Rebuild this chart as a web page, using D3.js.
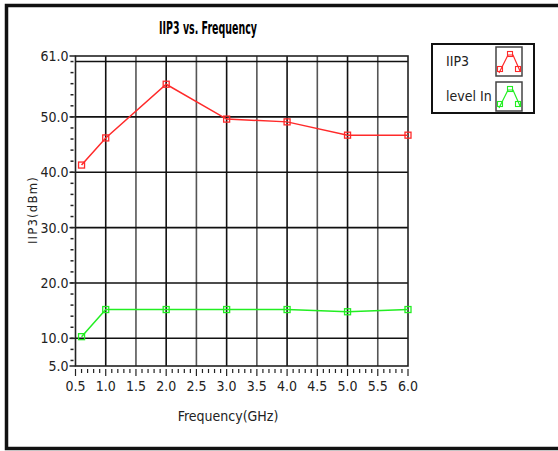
<!DOCTYPE html>
<html>
<head>
<meta charset="utf-8">
<script src="https://cdn.jsdelivr.net/npm/d3@7"></script>
<style>
  body { margin: 0; background: #fff; }
  text { font-family: "DejaVu Sans Condensed", "Liberation Sans", sans-serif; }
</style>
</head>
<body>
<div id="chart"></div>
<script>
// data
var frequency = [0.6, 1.0, 2.0, 3.0, 4.0, 5.0, 6.0];
var iip3 = [41.3, 46.2, 55.9, 49.6, 49.1, 46.7, 46.7];
var levelIn = [10.3, 15.2, 15.2, 15.2, 15.2, 14.8, 15.2];
var yTickLabels = [61, 50, 40, 30, 20, 10, 5];
var yGrid = [10, 20, 30, 40, 50, 60];
var xTickLabels = [0.5, 1.0, 1.5, 2.0, 2.5, 3.0, 3.5, 4.0, 4.5, 5.0, 5.5, 6.0];
var seriesNames = ["IIP3", "level In"];
var seriesColors = ["#ff2a2a", "#22ee22"];

var W = 558, H = 451;
var svg = d3.select("#chart").append("svg")
    .attr("width", W).attr("height", H);

// outer frame
svg.append("rect")
    .attr("x", 6.5).attr("y", 5.5)
    .attr("width", 600).attr("height", 443)
    .attr("fill", "#fff").attr("stroke", "#111").attr("stroke-width", 3.5);

var pLeft = 75.5, pRight = 408, pTop = 56, pBottom = 366;

var x = d3.scaleLinear().domain([0.5, 6.0]).range([pLeft, pRight]);
var y = d3.scaleLinear().domain([5, 61]).range([pBottom, pTop]);

// title
svg.append("text")
    .attr("x", 208).attr("y", 34)
    .attr("text-anchor", "middle")
    .attr("font-weight", "bold")
    .attr("font-size", 17)
    .attr("textLength", 98).attr("lengthAdjust", "spacingAndGlyphs")
    .text("IIP3 vs. Frequency");

// grid
var grid = svg.append("g");
grid.selectAll(".vg").data(xTickLabels.slice(1, -1)).enter().append("line")
    .attr("x1", d => x(d)).attr("x2", d => x(d))
    .attr("y1", pTop).attr("y2", pBottom)
    .attr("stroke", (d, i) => i % 2 == 0 ? "#111" : "#555")
    .attr("stroke-width", 1.6);
grid.selectAll(".hg").data(yGrid).enter().append("line")
    .attr("x1", pLeft).attr("x2", pRight)
    .attr("y1", d => y(d)).attr("y2", d => y(d))
    .attr("stroke", "#111").attr("stroke-width", 1.6);

// plot frame
svg.append("rect")
    .attr("x", pLeft).attr("y", pTop)
    .attr("width", pRight - pLeft).attr("height", pBottom - pTop)
    .attr("fill", "none").attr("stroke", "#222").attr("stroke-width", 1.6);

// y axis: minor ticks every 2, labels
var yMinor = d3.range(6, 61, 2);
svg.append("g").selectAll("line").data(yMinor).enter().append("line")
    .attr("x1", pLeft - 5).attr("x2", pLeft - 2)
    .attr("y1", d => y(d)).attr("y2", d => y(d))
    .attr("stroke", "#222").attr("stroke-width", 1.5);
svg.append("g").selectAll("line").data(yTickLabels).enter().append("line")
    .attr("x1", pLeft - 6).attr("x2", pLeft)
    .attr("y1", d => y(d)).attr("y2", d => y(d))
    .attr("stroke", "#222").attr("stroke-width", 1.5);
svg.append("g").selectAll("text").data(yTickLabels).enter().append("text")
    .attr("x", pLeft - 7).attr("y", d => y(d) + 5)
    .attr("text-anchor", "end")
    .attr("font-size", 14)
    .attr("fill", "#222")
    .text(d => d.toFixed(1));

svg.append("text")
    .attr("transform", "translate(37,210) rotate(-90)")
    .attr("text-anchor", "middle")
    .attr("font-size", 13)
    .attr("letter-spacing", 1.2)
    .attr("fill", "#222")
    .text("IIP3(dBm)");

// x axis: minor ticks every 0.1, labels
var xMinor = d3.range(5, 61).map(d => d / 10);
svg.append("g").selectAll("line").data(xMinor).enter().append("line")
    .attr("x1", d => x(d)).attr("x2", d => x(d))
    .attr("y1", pBottom + 3)
    .attr("y2", d => Math.round(d * 10) % 5 == 0 ? pBottom + 10 : pBottom + 7)
    .attr("stroke", "#222").attr("stroke-width", 1.2);
svg.append("g").selectAll("text").data(xTickLabels).enter().append("text")
    .attr("x", d => x(d)).attr("y", pBottom + 25)
    .attr("text-anchor", "middle")
    .attr("font-size", 14)
    .attr("fill", "#222")
    .text(d => d.toFixed(1));

svg.append("text")
    .attr("x", 228).attr("y", 421)
    .attr("text-anchor", "middle")
    .attr("font-size", 14)
    .attr("fill", "#222")
    .text("Frequency(GHz)");

// series
var line = d3.line().x(d => x(d[0])).y(d => y(d[1]));
[iip3, levelIn].forEach(function (vals, k) {
    var pts = frequency.map((f, i) => [f, vals[i]]);
    svg.append("path")
        .attr("d", line(pts))
        .attr("fill", "none")
        .attr("stroke", seriesColors[k])
        .attr("stroke-width", 1.5);
    svg.append("g").selectAll("rect").data(pts).enter().append("rect")
        .attr("x", d => x(d[0]) - 3).attr("y", d => y(d[1]) - 3)
        .attr("width", 6).attr("height", 6)
        .attr("fill", "none")
        .attr("stroke", seriesColors[k]).attr("stroke-width", 1.3);
});

// legend
var lg = svg.append("g");
lg.append("rect")
    .attr("x", 432).attr("y", 44).attr("width", 102).attr("height", 69)
    .attr("fill", "#fff").attr("stroke", "#111").attr("stroke-width", 2);
seriesNames.forEach(function (name, k) {
    var y0 = 47 + k * 35;
    lg.append("text")
        .attr("x", 446).attr("y", y0 + 19)
        .attr("font-size", 14)
        .attr("fill", "#222")
        .text(name);
    lg.append("rect")
        .attr("x", 496).attr("y", y0).attr("width", 26).attr("height", 29)
        .attr("fill", "#fff").attr("stroke", "#444").attr("stroke-width", 1.5);
    // little icon of a line with markers
    var ic = [[499, y0 + 26], [508, y0 + 8], [513, y0 + 8], [520, y0 + 24]];
    lg.append("path")
        .attr("d", d3.line()(ic))
        .attr("fill", "none").attr("stroke", seriesColors[k]).attr("stroke-width", 1.2);
    lg.selectAll(null).data([[500, y0 + 22], [510, y0 + 7], [518, y0 + 22]]).enter().append("rect")
        .attr("x", d => d[0] - 2.5).attr("y", d => d[1] - 2.5)
        .attr("width", 5).attr("height", 5)
        .attr("fill", "none").attr("stroke", seriesColors[k]).attr("stroke-width", 1.1);
});
</script>
</body>
</html>
